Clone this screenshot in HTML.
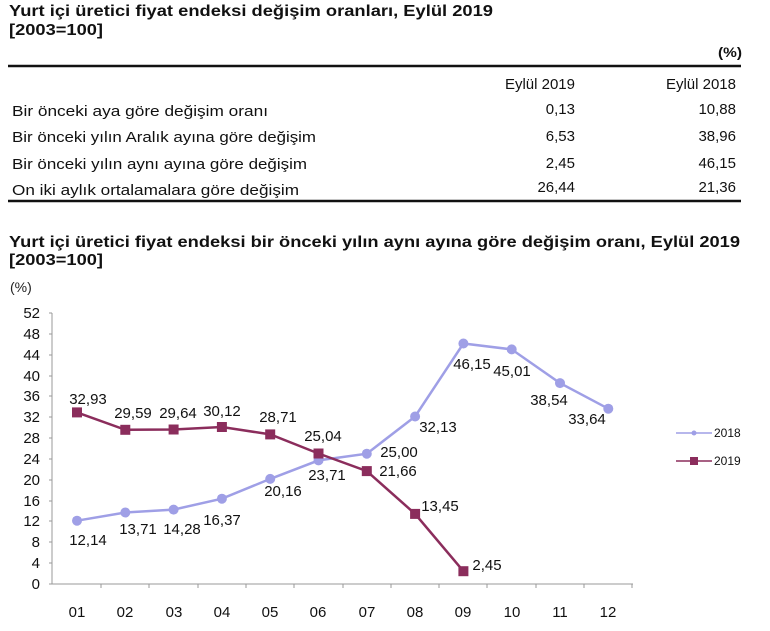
<!DOCTYPE html>
<html><head><meta charset="utf-8"><style>
body{margin:0;background:#fff;width:770px;height:626px;overflow:hidden;font-family:"Liberation Sans",Arial,sans-serif;}
</style></head><body>
<svg width="770" height="626" xmlns="http://www.w3.org/2000/svg" font-family="Liberation Sans, Arial, sans-serif">
<g font-weight="bold" font-size="16" fill="#111">
<text x="9" y="16" textLength="484" lengthAdjust="spacingAndGlyphs">Yurt içi üretici fiyat endeksi değişim oranları, Eylül 2019</text>
<text x="9" y="35" textLength="94" lengthAdjust="spacingAndGlyphs">[2003=100]</text>
<text x="718" y="57" font-size="14" textLength="24" lengthAdjust="spacingAndGlyphs">(%)</text>
<text x="9" y="247" textLength="731" lengthAdjust="spacingAndGlyphs">Yurt içi üretici fiyat endeksi bir önceki yılın aynı ayına göre değişim oranı, Eylül 2019</text>
<text x="9" y="265" textLength="94" lengthAdjust="spacingAndGlyphs">[2003=100]</text>
</g>
<line x1="8" y1="66" x2="741" y2="66" stroke="#111" stroke-width="2.5"/>
<line x1="8" y1="201" x2="741" y2="201" stroke="#111" stroke-width="2.5"/>
<g font-size="15" fill="#111">
<text x="575" y="89" text-anchor="end">Eylül 2019</text>
<text x="736" y="89" text-anchor="end">Eylül 2018</text>
<text x="12" y="116" textLength="256" lengthAdjust="spacingAndGlyphs">Bir önceki aya göre değişim oranı</text>
<text x="575" y="114" text-anchor="end">0,13</text><text x="736" y="114" text-anchor="end">10,88</text>
<text x="12" y="142" textLength="304" lengthAdjust="spacingAndGlyphs">Bir önceki yılın Aralık ayına göre değişim</text>
<text x="575" y="141" text-anchor="end">6,53</text><text x="736" y="141" text-anchor="end">38,96</text>
<text x="12" y="169" textLength="295" lengthAdjust="spacingAndGlyphs">Bir önceki yılın aynı ayına göre değişim</text>
<text x="575" y="168" text-anchor="end">2,45</text><text x="736" y="168" text-anchor="end">46,15</text>
<text x="12" y="195" textLength="287" lengthAdjust="spacingAndGlyphs">On iki aylık ortalamalara göre değişim</text>
<text x="575" y="192" text-anchor="end">26,44</text><text x="736" y="192" text-anchor="end">21,36</text>
</g>
<text x="10" y="292" font-size="14" fill="#222">(%)</text>
<g stroke="#999" stroke-width="1">
<line x1="52" y1="313" x2="52" y2="584"/>
<line x1="52" y1="584" x2="633" y2="584"/>
</g>
<g font-size="15" fill="#111" text-anchor="end">
<text x="40" y="318">52</text><text x="40" y="339">48</text><text x="40" y="360">44</text><text x="40" y="381">40</text><text x="40" y="401">36</text><text x="40" y="422">32</text><text x="40" y="443">28</text><text x="40" y="464">24</text><text x="40" y="485">20</text><text x="40" y="506">16</text><text x="40" y="526">12</text><text x="40" y="547">8</text><text x="40" y="568">4</text><text x="40" y="589">0</text>
</g>
<g stroke="#999"><path d="M49 313h3M49 334h3M49 355h3M49 376h3M49 396h3M49 417h3M49 438h3M49 459h3M49 480h3M49 501h3M49 521h3M49 542h3M49 563h3M49 584h3M101 584v4M149 584v4M198 584v4M246 584v4M294 584v4M343 584v4M391 584v4M439 584v4M487 584v4M536 584v4M584 584v4M632 584v4"/></g>
<g font-size="15" fill="#111" text-anchor="middle">
<text x="77" y="617">01</text><text x="125" y="617">02</text><text x="174" y="617">03</text><text x="222" y="617">04</text><text x="270" y="617">05</text><text x="318" y="617">06</text><text x="367" y="617">07</text><text x="415" y="617">08</text><text x="463" y="617">09</text><text x="512" y="617">10</text><text x="560" y="617">11</text><text x="608" y="617">12</text>
</g>
<polyline fill="none" stroke="#9f9fe6" stroke-width="2.5" points="77,520.7 125.3,512.5 173.6,509.6 221.9,498.7 270.2,478.9 318.5,460.4 366.8,453.7 415.1,416.5 463.4,343.5 511.7,349.4 560,383.1 608.3,408.7"/>
<g fill="#9f9fe6">
<circle cx="77" cy="520.7" r="5"/><circle cx="125.3" cy="512.5" r="5"/><circle cx="173.6" cy="509.6" r="5"/><circle cx="221.9" cy="498.7" r="5"/><circle cx="270.2" cy="478.9" r="5"/><circle cx="318.5" cy="460.4" r="5"/><circle cx="366.8" cy="453.7" r="5"/><circle cx="415.1" cy="416.5" r="5"/><circle cx="463.4" cy="343.5" r="5"/><circle cx="511.7" cy="349.4" r="5"/><circle cx="560" cy="383.1" r="5"/><circle cx="608.3" cy="408.7" r="5"/>
</g>
<polyline fill="none" stroke="#8b2d5c" stroke-width="2.5" points="77,412.4 125.3,429.8 173.6,429.5 221.9,427 270.2,434.4 318.5,453.5 366.8,471.1 415.1,513.9 463.4,571.2"/>
<g fill="#8b2d5c">
<rect x="72" y="407.4" width="10" height="10"/><rect x="120.3" y="424.8" width="10" height="10"/><rect x="168.6" y="424.5" width="10" height="10"/><rect x="216.9" y="422" width="10" height="10"/><rect x="265.2" y="429.4" width="10" height="10"/><rect x="313.5" y="448.5" width="10" height="10"/><rect x="361.8" y="466.1" width="10" height="10"/><rect x="410.1" y="508.9" width="10" height="10"/><rect x="458.4" y="566.2" width="10" height="10"/>
</g>
<g font-size="15" fill="#111" text-anchor="middle" dominant-baseline="middle">
<text x="88" y="400">32,93</text><text x="133" y="414">29,59</text><text x="178" y="414">29,64</text><text x="222" y="412">30,12</text><text x="278" y="418">28,71</text><text x="323" y="437">25,04</text><text x="398" y="472">21,66</text><text x="440" y="507">13,45</text><text x="487" y="566">2,45</text>
<text x="88" y="541">12,14</text><text x="138" y="530">13,71</text><text x="182" y="530">14,28</text><text x="222" y="521">16,37</text><text x="283" y="492">20,16</text><text x="327" y="476">23,71</text><text x="399" y="453">25,00</text><text x="438" y="428">32,13</text><text x="472" y="365">46,15</text><text x="512" y="372">45,01</text><text x="549" y="401">38,54</text><text x="587" y="420">33,64</text>
</g>
<line x1="676" y1="433" x2="712" y2="433" stroke="#9f9fe6" stroke-width="1.5"/>
<circle cx="694" cy="433" r="2.5" fill="#9f9fe6"/>
<text x="714" y="437" font-size="12" fill="#111">2018</text>
<line x1="676" y1="461" x2="712" y2="461" stroke="#8b2d5c" stroke-width="1.5"/>
<rect x="690" y="457" width="8" height="8" fill="#8b2d5c"/>
<text x="714" y="465" font-size="12" fill="#111">2019</text>
</svg>
</body></html>
